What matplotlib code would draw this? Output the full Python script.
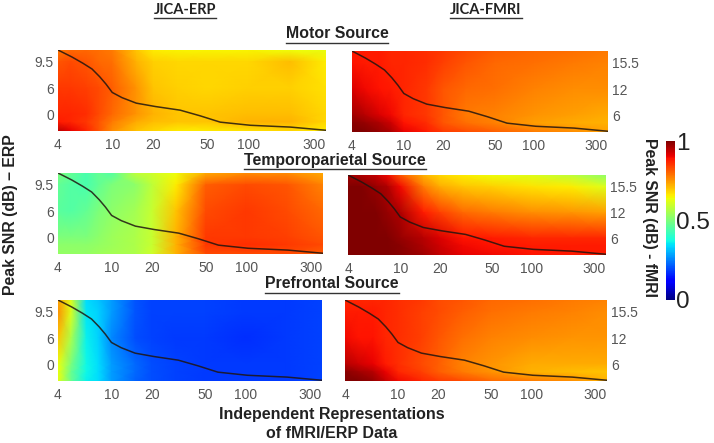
import numpy as np
import matplotlib
matplotlib.use("Agg")
from matplotlib import pyplot as plt
from matplotlib.lines import Line2D

W, H = 714, 443

# grid nodes: independent representations, and row position on the (uneven) snr axis
reps = [4, 5, 6.5, 8, 10, 15, 20, 30, 50, 100, 200, 370]
levels = [2.46, 2, 1, 0, -0.3, -0.65]

# boundary curve, same row units
curve_x = [4, 5.07, 6.1, 7.11, 8.1, 9, 10, 11.8, 15, 20.7, 31.5, 44, 62, 103, 203, 367]
curve_y = [2.46, 2.19, 1.95, 1.73, 1.43, 1.15, 0.83, 0.63, 0.42, 0.29, 0.15, -0.065,
           -0.31, -0.43, -0.5, -0.62]

erp_ticks = ["0", "6", "9.5"]
fmri_ticks = ["6", "12", "15.5"]
x_ticks = [4, 10, 20, 50, 100, 300]

motor_erp = [[.78, .80, .80, .79, .78, .70, .66, .65, .65, .65, .64, .63],
             [.82, .83, .82, .80, .79, .72, .69, .68, .68, .68, .71, .66],
             [.85, .85, .84, .83, .81, .75, .70, .69, .68, .69, .69, .67],
             [.87, .87, .86, .83, .80, .75, .72, .70, .70, .71, .71, .68],
             [.88, .87, .85, .82, .78, .73, .71, .70, .70, .72, .72, .68],
             [.95, .91, .87, .82, .76, .70, .68, .66, .66, .67, .68, .66]]
motor_fmri = [[.88, .88, .88, .87, .87, .86, .85, .83, .81, .80, .79, .78],
              [.89, .88, .88, .87, .87, .86, .84, .82, .80, .79, .78, .77],
              [.92, .90, .89, .88, .87, .85, .82, .80, .79, .77, .76, .76],
              [.97, .95, .92, .90, .87, .85, .82, .78, .77, .75, .74, .73],
              [.99, .98, .96, .93, .89, .86, .82, .79, .77, .74, .73, .72],
              [1.0, 1.0, .98, .96, .91, .88, .85, .83, .81, .78, .76, .74]]
temporal_erp = [[.50, .47, .44, .47, .45, .58, .60, .64, .73, .76, .76, .73],
                [.47, .45, .44, .47, .50, .52, .58, .66, .81, .83, .82, .77],
                [.46, .45, .47, .50, .52, .55, .59, .70, .83, .85, .83, .80],
                [.50, .50, .50, .52, .54, .56, .59, .72, .85, .85, .84, .82],
                [.52, .52, .52, .53, .54, .56, .59, .72, .85, .86, .85, .83],
                [.53, .53, .53, .54, .55, .56, .60, .72, .83, .83, .83, .81]]
temporal_fmri = [[.97, .96, .94, .90, .82, .72, .68, .66, .64, .62, .58, .52],
                 [1.0, 1.0, .98, .96, .90, .78, .73, .70, .69, .67, .66, .62],
                 [1.0, 1.0, 1.0, .98, .96, .88, .84, .80, .78, .76, .75, .74],
                 [1.0, 1.0, 1.0, 1.0, .98, .95, .92, .89, .88, .87, .87, .87],
                 [1.0, 1.0, 1.0, 1.0, .99, .96, .93, .90, .89, .88, .88, .88],
                 [1.0, 1.0, 1.0, 1.0, .99, .97, .94, .91, .90, .89, .88, .88]]
prefrontal_erp = [[.74, .62, .34, .32, .28, .21, .19, .19, .19, .18, .18, .19],
                  [.76, .62, .35, .33, .28, .21, .19, .19, .19, .18, .18, .19],
                  [.70, .56, .36, .33, .26, .20, .19, .18, .18, .17, .18, .19],
                  [.64, .50, .37, .34, .28, .23, .20, .19, .18, .18, .18, .19],
                  [.64, .48, .37, .34, .28, .23, .20, .19, .18, .18, .18, .19],
                  [.63, .48, .36, .34, .28, .22, .20, .19, .18, .18, .18, .19]]
prefrontal_fmri = [[.87, .87, .87, .87, .86, .85, .83, .82, .80, .79, .78, .77],
                   [.88, .88, .88, .87, .86, .84, .83, .81, .79, .78, .77, .76],
                   [.90, .89, .89, .87, .86, .84, .82, .79, .77, .76, .75, .75],
                   [.95, .93, .91, .88, .86, .83, .81, .77, .75, .73, .73, .73],
                   [.99, .97, .95, .91, .87, .84, .81, .78, .75, .72, .71, .70],
                   [1.0, 1.0, .98, .94, .90, .87, .85, .83, .80, .78, .76, .72]]

plt.rcParams['font.family'] = ['Liberation Sans', 'DejaVu Sans']
fig = plt.figure(figsize=(W / 100, H / 100), dpi=100)


def px_axes(x0, y0, x1, y1):
    return fig.add_axes([x0 / W, 1 - y1 / H, (x1 - x0) / W, (y1 - y0) / H])


def panel(box, vals, labels, right=False):
    ax = px_axes(*box)
    mesh = ax.pcolormesh(reps, levels, np.array(vals), cmap='jet', vmin=0, vmax=1,
                         shading='gouraud')
    ax.plot(curve_x, curve_y, color='#201510', lw=1.1, alpha=0.85)
    ax.set_xscale('log')
    ax.set_xlim(4, 370)
    ax.set_ylim(-0.65, 2.46)
    ax.set_xticks(x_ticks)
    ax.set_xticklabels([str(v) for v in x_ticks])
    ax.minorticks_off()
    ax.set_yticks([0, 1, 2])
    ax.set_yticklabels(labels)
    if right:
        ax.yaxis.tick_right()
    ax.tick_params(length=0, colors='#555555', labelsize=10, pad=3)
    ax.tick_params(axis='x', pad=5)
    for s in ax.spines.values():
        s.set_visible(False)
    return mesh


mesh = panel((58, 50, 326, 131), motor_erp, erp_ticks)
panel((352, 51, 608, 132), motor_fmri, fmri_ticks, True)
panel((58, 173, 323, 254), temporal_erp, erp_ticks)
panel((348, 175, 606, 255), temporal_fmri, fmri_ticks, True)
panel((58, 300, 322, 381), prefrontal_erp, erp_ticks)
panel((345, 300, 607, 381), prefrontal_fmri, fmri_ticks, True)

cax = px_axes(666, 141, 675, 300)
cb = fig.colorbar(mesh, cax=cax, ticks=[0, 0.5, 1])
cb.ax.set_yticklabels(['0', '0.5', '1'])
cb.ax.tick_params(length=0, labelsize=17.5, pad=1, colors='#222222')
cb.outline.set_visible(False)

# underlined headings
fig.canvas.draw()
renderer = fig.canvas.get_renderer()
heads = [("JICA-ERP", 185, 10, 'Lato', 10.5),
         ("JICA-FMRI", 486, 10, 'Lato', 10.5),
         ("Motor Source", 337, 34, 'Liberation Sans', 11.4),
         ("Temporoparietal Source", 335, 160, 'Liberation Sans', 11.4),
         ("Prefrontal Source", 332, 284, 'Liberation Sans', 11.4)]
for s, x, y, fam, size in heads:
    t = fig.text(x / W, 1 - y / H, s, ha='center', va='center', fontweight='bold',
                 family=[fam, 'DejaVu Sans'], fontsize=size, color='#222222')
    bb = t.get_window_extent(renderer)
    fig.add_artist(Line2D([bb.x0 / W, bb.x1 / W], [(bb.y0 - 1) / H, (bb.y0 - 1) / H],
                          color='#333333', lw=1.0, transform=fig.transFigure))

fig.text(332 / W, 1 - 414 / H, "Independent Representations", ha='center', va='center',
         fontweight='bold', fontsize=11.5, color='#222222')
fig.text(332 / W, 1 - 433 / H, "of fMRI/ERP Data", ha='center', va='center',
         fontweight='bold', fontsize=11.5, color='#222222')
fig.text(11 / W, 1 - 215 / H, "Peak SNR (dB) \u2013 ERP", rotation=90, ha='center', va='center',
         fontweight='bold', fontsize=11.4, color='#222222')
fig.text(650 / W, 1 - 217 / H, "Peak SNR (dB) - fMRI", rotation=270, ha='center', va='center',
         fontweight='bold', fontsize=11.4, color='#222222')

fig.savefig("out.png", dpi=100)
